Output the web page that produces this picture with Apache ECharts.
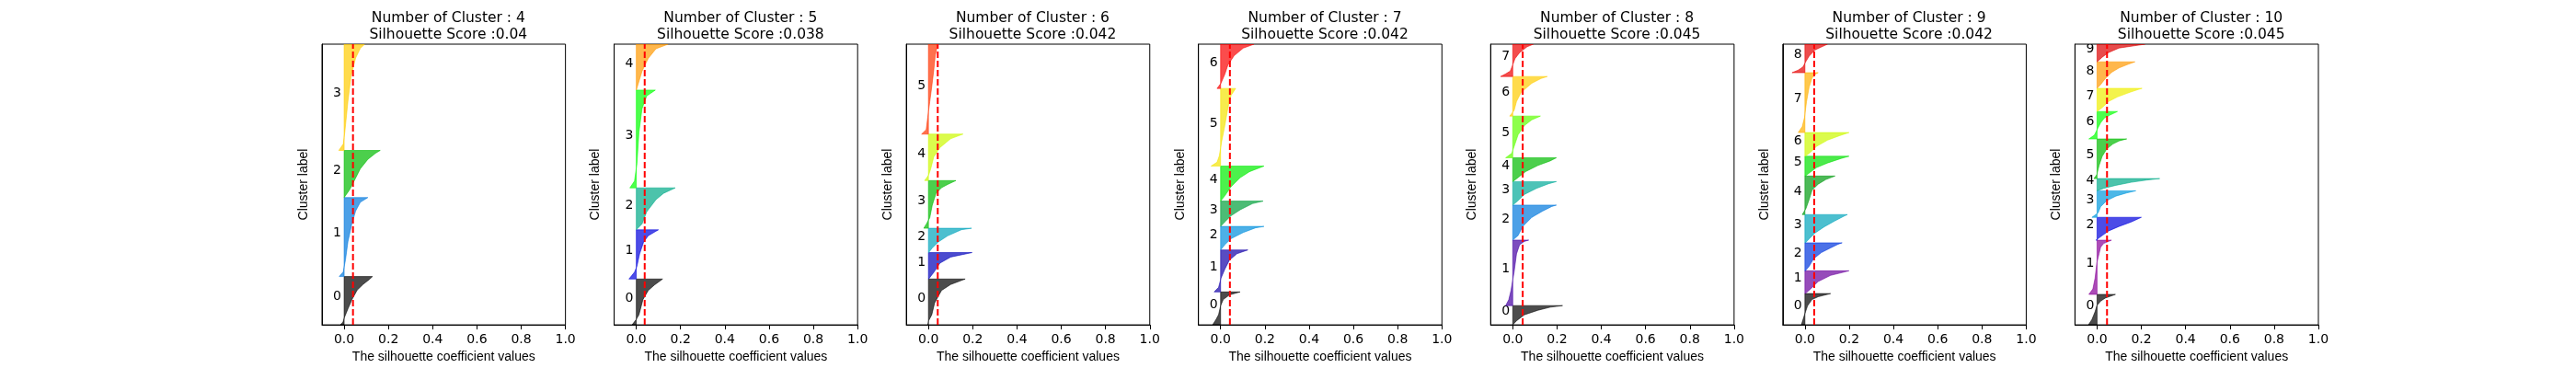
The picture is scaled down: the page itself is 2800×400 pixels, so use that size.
<!DOCTYPE html>
<html><head><meta charset="utf-8">
<script src="https://cdn.jsdelivr.net/npm/echarts@6/dist/echarts.min.js"></script>
<style>html,body{margin:0;padding:0;background:#fff}#c{width:2800px;height:400px}</style>
</head><body><div id="c"></div>
<script>
// ---------------- data ----------------
const nClusters = [4, 5, 6, 7, 8, 9, 10];
const silhouetteScores = [0.04, 0.038, 0.042, 0.042, 0.045, 0.042, 0.045];
const xTickValues = [0.0, 0.2, 0.4, 0.6, 0.8, 1.0];

// samples per cluster (in plotting order, cluster 0 at bottom)
const sizesK4 = [530, 867, 517, 1166];
const sizesK5 = [503, 540, 460, 1073, 504];
const sizesK6 = [503, 290, 267, 523, 510, 987];
const sizesK7 = [361, 461, 258, 278, 384, 852, 486];
const sizesK8 = [211, 719, 384, 258, 261, 458, 434, 355];
const sizesK9 = [343, 250, 307, 310, 423, 217, 260, 657, 313];
const sizesK10 = [334, 595, 251, 291, 134, 435, 301, 254, 291, 194];

// silhouette profile of each cluster: [rank fraction within cluster, silhouette value]
const profilesK4 = [
  [[0,-0.017],[0.06,-0.005],[0.15,0.001],[0.33,0.017],[0.52,0.035],[0.72,0.059],[0.84,0.086],[0.94,0.114],[1,0.128]],
  [[0,-0.022],[0.06,-0.004],[0.21,0.006],[0.44,0.017],[0.67,0.035],[0.83,0.052],[0.94,0.073],[1,0.107]],
  [[0,0.0],[0.16,0.024],[0.35,0.045],[0.61,0.073],[0.81,0.107],[0.94,0.142],[1,0.163]],
  [[0,-0.024],[0.06,-0.004],[0.17,0.003],[0.46,0.017],[0.70,0.031],[0.87,0.052],[0.96,0.073],[1,0.093]]
];
const profilesK5 = [
  [[0,-0.019],[0.12,0.0],[0.22,0.012],[0.55,0.030],[0.75,0.054],[0.87,0.082],[1,0.119]],
  [[0,-0.033],[0.14,-0.008],[0.26,0.003],[0.51,0.015],[0.75,0.033],[0.88,0.054],[1,0.100]],
  [[0,0.0],[0.14,0.026],[0.43,0.047],[0.72,0.089],[0.87,0.123],[1,0.176]],
  [[0,-0.029],[0.07,-0.008],[0.25,0.003],[0.57,0.012],[0.81,0.026],[0.94,0.047],[1,0.086]],
  [[0,0.0],[0.41,0.026],[0.69,0.054],[0.90,0.089],[1,0.144]]
];
const profilesK6 = [
  [[0,-0.003],[0.09,0.001],[0.22,0.015],[0.48,0.028],[0.75,0.059],[0.88,0.100],[1,0.166]],
  [[0,0.001],[0.25,0.024],[0.60,0.052],[0.83,0.100],[1,0.197]],
  [[0,0.001],[0.19,0.017],[0.44,0.045],[0.69,0.087],[0.94,0.149],[1,0.195]],
  [[0,-0.021],[0.10,-0.008],[0.22,0.006],[0.48,0.017],[0.73,0.034],[0.85,0.059],[0.92,0.087],[1,0.124]],
  [[0,-0.017],[0.12,0.001],[0.25,0.010],[0.51,0.024],[0.71,0.052],[0.90,0.100],[1,0.156]],
  [[0,-0.031],[0.05,-0.010],[0.19,-0.003],[0.36,0.006],[0.53,0.015],[0.71,0.024],[0.88,0.031],[1,0.042]]
];
const profilesK7 = [
  [[0,-0.036],[0.17,-0.020],[0.31,-0.009],[0.58,0.0],[0.77,0.012],[0.91,0.040],[1,0.088]],
  [[0,-0.029],[0.11,-0.009],[0.33,0.002],[0.54,0.019],[0.76,0.040],[0.91,0.074],[1,0.123]],
  [[0,0.0],[0.22,0.019],[0.48,0.047],[0.74,0.102],[0.94,0.158],[1,0.196]],
  [[0,0.0],[0.18,0.019],[0.42,0.047],[0.66,0.089],[0.90,0.144],[1,0.192]],
  [[0,0.0],[0.15,0.019],[0.41,0.047],[0.67,0.089],[0.84,0.130],[1,0.196]],
  [[0,-0.043],[0.05,-0.016],[0.13,-0.006],[0.32,0.005],[0.52,0.019],[0.75,0.033],[0.91,0.047],[1,0.068]],
  [[0,-0.016],[0.12,0.002],[0.32,0.019],[0.53,0.033],[0.74,0.061],[0.91,0.102],[1,0.151]]
];
const profilesK8 = [
  [[0,0.0],[0.21,0.017],[0.52,0.052],[0.76,0.114],[0.92,0.170],[1,0.225]],
  [[0,-0.032],[0.09,-0.018],[0.23,-0.008],[0.51,0.006],[0.79,0.017],[0.93,0.031],[0.98,0.052],[1,0.072]],
  [[0,0.0],[0.13,0.024],[0.39,0.045],[0.65,0.086],[0.83,0.135],[0.96,0.176],[1,0.197]],
  [[0,0.0],[0.19,0.024],[0.45,0.052],[0.71,0.107],[0.91,0.162],[1,0.197]],
  [[0,0.0],[0.17,0.024],[0.42,0.058],[0.68,0.114],[0.87,0.169],[1,0.197]],
  [[0,-0.032],[0.11,-0.004],[0.33,0.010],[0.55,0.024],[0.77,0.052],[0.91,0.086],[1,0.125]],
  [[0,-0.014],[0.14,0.006],[0.37,0.017],[0.60,0.038],[0.83,0.086],[0.95,0.128],[1,0.156]],
  [[0,-0.055],[0.08,-0.032],[0.17,-0.011],[0.36,0.0],[0.55,0.010],[0.74,0.031],[0.92,0.065],[1,0.093]]
];
const profilesK9 = [
  [[0,-0.016],[0.32,-0.002],[0.61,0.012],[0.81,0.032],[0.90,0.060],[1,0.116]],
  [[0,0.002],[0.20,0.025],[0.53,0.060],[0.80,0.116],[0.93,0.171],[1,0.199]],
  [[0,0.002],[0.16,0.019],[0.43,0.039],[0.65,0.074],[0.82,0.116],[0.95,0.150],[1,0.168]],
  [[0,0.002],[0.14,0.019],[0.35,0.046],[0.57,0.088],[0.78,0.136],[0.95,0.178],[1,0.192]],
  [[0,-0.012],[0.16,0.005],[0.39,0.019],[0.63,0.032],[0.79,0.060],[0.91,0.095],[1,0.136]],
  [[0,0.002],[0.20,0.025],[0.43,0.053],[0.66,0.102],[0.89,0.164],[1,0.199]],
  [[0,0.002],[0.17,0.025],[0.42,0.053],[0.68,0.102],[0.87,0.157],[1,0.199]],
  [[0,-0.030],[0.10,-0.012],[0.25,-0.002],[0.51,0.007],[0.76,0.019],[0.91,0.032],[0.99,0.053],[1,0.060]],
  [[0,-0.058],[0.09,-0.030],[0.20,-0.009],[0.36,0.002],[0.58,0.019],[0.80,0.046],[1,0.102]]
];
const profilesK10 = [
  [[0,-0.039],[0.18,-0.023],[0.43,-0.009],[0.63,-0.001],[0.78,0.016],[0.88,0.037],[1,0.083]],
  [[0,-0.037],[0.10,-0.019],[0.30,-0.009],[0.58,-0.001],[0.75,0.009],[0.87,0.016],[0.94,0.030],[1,0.065]],
  [[0,-0.005],[0.20,0.023],[0.40,0.051],[0.60,0.099],[0.80,0.155],[1,0.200]],
  [[0,-0.023],[0.17,0.005],[0.40,0.016],[0.63,0.044],[0.80,0.085],[0.92,0.134],[1,0.175]],
  [[0,0.0],[0.20,0.030],[0.45,0.085],[0.70,0.155],[0.88,0.224],[1,0.283]],
  [[0,-0.014],[0.10,-0.001],[0.33,0.009],[0.56,0.023],[0.75,0.044],[0.87,0.071],[0.95,0.099],[1,0.134]],
  [[0,-0.037],[0.14,-0.012],[0.37,0.002],[0.59,0.016],[0.76,0.033],[0.87,0.058],[1,0.092]],
  [[0,0.0],[0.17,0.023],[0.43,0.051],[0.63,0.092],[0.83,0.148],[0.96,0.189],[1,0.203]],
  [[0,0.0],[0.14,0.016],[0.37,0.037],[0.60,0.065],[0.77,0.099],[0.91,0.141],[1,0.171]],
  [[0,0.0],[0.26,0.023],[0.52,0.051],[0.78,0.099],[1,0.217]]
];

const allSizes = [sizesK4, sizesK5, sizesK6, sizesK7, sizesK8, sizesK9, sizesK10];
const allProfiles = [profilesK4, profilesK5, profilesK6, profilesK7, profilesK8, profilesK9, profilesK10];

// ---------------- style helpers ----------------
const FONT_T = "'DejaVu Sans', sans-serif";
const FONT_L = "'Liberation Sans', Arial, sans-serif";
const nsR = [0,0.4667,0.5333,0,0,0,0,0,0,0,0,0,0,0.7333,0.9333,1,1,1,0.8667,0.8,0.8];
const nsG = [0,0,0,0,0,0.4667,0.6,0.6667,0.6667,0.6,0.7333,0.8667,1,1,0.9333,0.8,0.6,0,0,0,0.8];
const nsB = [0,0.5333,0.6,0.6667,0.8667,0.8667,0.8667,0.6667,0.5333,0,0,0,0,0,0,0,0,0,0,0,0.8];
function nipySpectral(t, alpha) {
  const p = Math.min(Math.max(t, 0), 1) * 20;
  const i = Math.min(Math.floor(p), 19), f = p - i;
  const c = a => Math.round(255 * (a[i] + (a[i + 1] - a[i]) * f));
  return `rgba(${c(nsR)},${c(nsG)},${c(nsB)},${alpha})`;
}

const FIG_LEFT = 350, AX_W = 264.63, PITCH = 317.56, AX_TOP = 48, AX_H = 308;

const grids = [], xAxes = [], yAxes = [], series = [], titles = [];
nClusters.forEach((k, p) => {
  const sizes = allSizes[p];
  const total = sizes.reduce((a, b) => a + b, 0);
  const left = FIG_LEFT + p * PITCH;
  grids.push({ left: left, top: AX_TOP, width: AX_W, height: AX_H, show: true,
    borderColor: '#000', borderWidth: 1, backgroundColor: 'transparent' });
  titles.push({
    text: 'Number of Cluster : ' + k + '\nSilhouette Score :' + silhouetteScores[p],
    left: left + AX_W / 2, top: 6, textAlign: 'center',
    textStyle: { fontFamily: FONT_T, fontSize: 15.5, lineHeight: 18.3, fontWeight: 'normal', color: '#000' }
  });
  xAxes.push({
    gridIndex: p, type: 'value', min: -0.1, max: 1.0,
    name: 'The silhouette coefficient values', nameLocation: 'middle', nameGap: 26,
    nameTextStyle: { fontFamily: FONT_L, fontSize: 14, color: '#000' },
    axisLine: { show: true, onZero: false, lineStyle: { color: '#000', width: 1 } },
    axisTick: { show: true, length: 5, customValues: xTickValues, lineStyle: { color: '#000' } },
    axisLabel: { customValues: xTickValues, margin: 9, fontFamily: FONT_T, fontSize: 14, color: '#000',
      formatter: v => v.toFixed(1) },
    splitLine: { show: false }
  });
  yAxes.push({
    gridIndex: p, type: 'value', min: 0, max: total,
    name: 'Cluster label', nameLocation: 'middle', nameGap: 13, nameRotate: 90,
    nameTextStyle: { fontFamily: FONT_L, fontSize: 14, color: '#000' },
    axisLine: { show: true, onZero: false, lineStyle: { color: '#000', width: 1 } },
    axisTick: { show: false }, axisLabel: { show: false }, splitLine: { show: false }
  });
  // cluster bands
  const data = [];
  let lower = 0;
  sizes.forEach((s, ci) => { data.push([lower, lower + s, ci]); lower += s; });
  const profs = allProfiles[p];
  series.push({
    type: 'custom', xAxisIndex: p, yAxisIndex: p, clip: true, silent: true,
    data: data,
    renderItem: (params, api) => {
      const y0 = api.value(0), y1 = api.value(1), ci = api.value(2);
      const col = nipySpectral(ci / k, 0.7);
      const pts = [api.coord([0, y0])];
      profs[ci].forEach(([f, v]) => pts.push(api.coord([v, y0 + f * (y1 - y0)])));
      pts.push(api.coord([0, y1]));
      const lab = api.coord([-0.05, (y0 + y1) / 2]);
      return { type: 'group', children: [
        { type: 'polygon', shape: { points: pts }, style: { fill: col, stroke: col, lineWidth: 0.8 } },
        { type: 'text', x: lab[0], y: lab[1] + 3,
          style: { text: String(ci), fill: '#000', font: '14px ' + FONT_T, align: 'left', verticalAlign: 'bottom' } }
      ] };
    }
  });
  // average silhouette score line
  series.push({
    type: 'line', xAxisIndex: p, yAxisIndex: p, silent: true, symbol: 'none', z: 5,
    data: [[silhouetteScores[p], 0], [silhouetteScores[p], total]],
    lineStyle: { color: '#ff0000', width: 2, type: [7, 3] }
  });
});

const chart = echarts.init(document.getElementById('c'), null, { renderer: 'canvas' });
chart.setOption({
  backgroundColor: '#fff', animation: false,
  title: titles, grid: grids, xAxis: xAxes, yAxis: yAxes, series: series
});
</script></body></html>
